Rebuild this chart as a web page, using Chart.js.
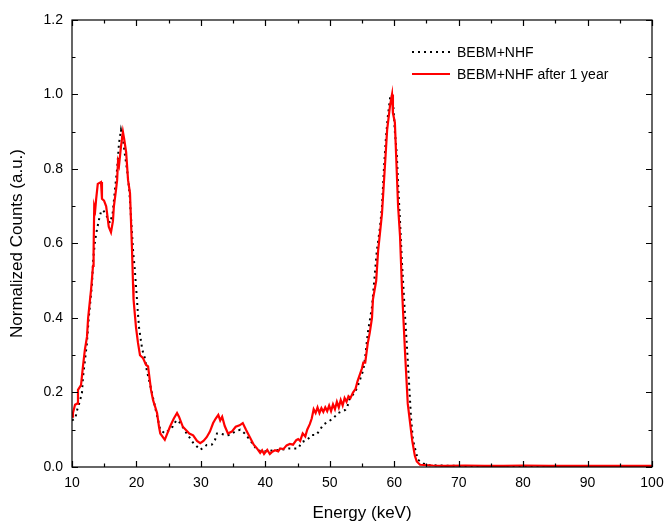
<!DOCTYPE html>
<html>
<head>
<meta charset="utf-8">
<script src="https://cdn.jsdelivr.net/npm/chart.js@4.4.1/dist/chart.umd.min.js"></script>
<style>
  html, body { margin: 0; padding: 0; background: #fff; }
  #wrap { width: 668px; height: 526px; }
</style>
</head>
<body>
<div id="wrap"><canvas id="spectrumChart" width="668" height="526"></canvas></div>
<script>
'use strict';

// series labels
var seriesLabels = ['BEBM+NHF', 'BEBM+NHF after 1 year'];

// fresh sample: energy (keV) and normalized counts
var energyBase = [10.0, 10.5, 10.8, 11.2, 11.55, 11.7, 12.3, 12.6, 13.1, 13.3, 13.6, 13.9, 14.2, 14.5, 14.8, 15.2, 15.5, 15.9,
  16.3, 16.7, 17.0, 17.3, 17.6, 17.9, 18.2, 18.6, 18.9, 19.3, 19.5, 19.7, 20.0, 20.2, 20.4, 20.9, 21.3, 21.6, 22.4, 22.9,
  23.7, 24.4, 25.0, 25.6, 26.2, 26.8, 27.8, 28.8, 29.9, 30.9, 31.7, 32.2, 32.5, 33.0, 34.0, 34.5, 35.3, 36.1, 36.8, 37.6,
  38.7, 39.5, 40.0, 41.0, 42.3, 43.8, 45.1, 45.7, 46.5, 47.2, 47.9, 48.5, 48.95, 49.7, 50.5, 51.3, 52.4, 52.7, 53.1, 53.9,
  54.4, 55.2, 55.5, 55.9, 56.55, 57.0, 57.3, 57.8, 58.1, 58.4, 58.7, 59.0, 59.35, 59.6, 59.9, 60.1, 60.4, 60.6, 60.9, 61.2,
  61.7, 62.0, 62.3, 62.6, 62.9, 63.4, 63.7, 64.5, 65, 67, 70, 75, 80, 85, 90, 95, 100];
var countsBase = [0.125, 0.13, 0.153, 0.175, 0.20, 0.24, 0.33, 0.40, 0.49, 0.56, 0.61, 0.64, 0.665, 0.685, 0.69, 0.68, 0.67, 0.655,
  0.68, 0.75, 0.80, 0.87, 0.905, 0.88, 0.84, 0.79, 0.74, 0.63, 0.575, 0.54, 0.47, 0.42, 0.375, 0.315, 0.293, 0.26, 0.20, 0.16,
  0.10, 0.09, 0.098, 0.108, 0.126, 0.118, 0.09, 0.065, 0.046, 0.059, 0.06, 0.073, 0.09, 0.09, 0.085, 0.086, 0.095, 0.10, 0.09, 0.073,
  0.046, 0.042, 0.042, 0.044, 0.046, 0.05, 0.05, 0.067, 0.073, 0.086, 0.086, 0.10, 0.113, 0.121, 0.13, 0.145, 0.153, 0.16, 0.185, 0.20,
  0.22, 0.26, 0.296, 0.36, 0.43, 0.52, 0.58, 0.645, 0.70, 0.80, 0.88, 0.94, 0.99, 1.0, 0.96, 0.90, 0.84, 0.76, 0.66, 0.55,
  0.40, 0.315, 0.226, 0.134, 0.073, 0.038, 0.019, 0.01, 0.005, 0.004, 0.003, 0.003, 0.003, 0.003, 0.003, 0.003, 0.003];

// same sample after 1 year
var energyAged = [10.0, 10.15, 10.47, 10.78, 10.93, 11.4, 11.7, 12.0, 12.33, 12.5, 12.95, 13.26, 13.35, 13.45, 13.6, 13.75, 14.0,
  14.5, 14.65, 14.97, 15.3, 15.45, 15.7, 16.05, 16.35, 16.5, 16.8, 17.0, 17.14, 17.3, 17.6, 17.9, 18.1, 18.4, 18.7, 19.0,
  19.3, 19.47, 19.55, 19.93, 20.24, 20.55, 21.0, 21.5, 21.8, 22.26, 22.57, 23.2, 23.5, 23.7, 24.4, 25.2, 25.8, 26.3, 26.6,
  27.2, 28.2, 28.8, 29.4, 29.9, 30.4, 30.9, 31.4, 31.9, 32.3, 32.7, 33.0, 33.3, 33.7, 34.2, 34.8, 35.4, 36.0, 36.5, 37.0,
  37.6, 38.2, 38.7, 39.2, 39.5, 39.8, 40.3, 40.7, 41.0, 41.5, 42.0, 42.3, 42.8, 43.3, 43.8, 44.3, 44.8, 45.1, 45.4, 45.8,
  46.2, 46.5, 46.9, 47.2, 47.5, 47.8, 48.1, 48.4, 48.7, 49.0, 49.3, 49.6, 49.9, 50.2, 50.5, 50.8, 51.1, 51.4, 51.7, 52.0,
  52.3, 52.6, 52.9, 53.2, 53.6, 54.0, 54.3, 54.7, 55.0, 55.2, 55.5, 55.9, 56.2, 56.55, 56.7, 57.2, 57.5, 57.8, 58.1, 58.6,
  58.9, 59.35, 59.66, 59.8, 60.1, 60.6, 60.9, 61.2, 61.7, 62.1, 62.8, 63.2, 63.5, 64.0, 66, 68, 71, 74, 77, 80, 84, 88, 92,
  96, 100];
var countsAged = [0.135, 0.145, 0.167, 0.17, 0.207, 0.22, 0.27, 0.315, 0.35, 0.40, 0.475, 0.54, 0.58, 0.70, 0.69, 0.72, 0.76,
  0.765, 0.72, 0.715, 0.70, 0.68, 0.645, 0.63, 0.66, 0.70, 0.74, 0.77, 0.82, 0.81, 0.86, 0.90, 0.88, 0.845, 0.77, 0.735,
  0.59, 0.49, 0.45, 0.375, 0.333, 0.30, 0.293, 0.274, 0.27, 0.207, 0.18, 0.145, 0.108, 0.09, 0.073, 0.108, 0.13, 0.145, 0.135,
  0.108, 0.09, 0.085, 0.07, 0.064, 0.07, 0.08, 0.095, 0.118, 0.13, 0.14, 0.125, 0.135, 0.11, 0.09, 0.095, 0.108, 0.112, 0.118, 0.10,
  0.08, 0.06, 0.05, 0.038, 0.045, 0.035, 0.046, 0.035, 0.04, 0.045, 0.042, 0.05, 0.048, 0.058, 0.062, 0.06, 0.072, 0.075, 0.07, 0.09,
  0.082, 0.10, 0.115, 0.13, 0.155, 0.145, 0.16, 0.145, 0.158, 0.148, 0.16, 0.15, 0.165, 0.15, 0.168, 0.155, 0.175, 0.16, 0.18, 0.165,
  0.185, 0.175, 0.19, 0.185, 0.20, 0.21, 0.23, 0.25, 0.265, 0.28, 0.28, 0.333, 0.36, 0.40, 0.45, 0.50, 0.58, 0.63, 0.68, 0.82,
  0.905, 0.97, 1.0, 0.95, 0.925, 0.70, 0.62, 0.48, 0.30, 0.17, 0.07, 0.03, 0.015, 0.006, 0.004, 0.003, 0.004, 0.003, 0.003, 0.004, 0.003, 0.003, 0.003,
  0.003, 0.003];

// axis ranges
var xTicks = [10, 20, 30, 40, 50, 60, 70, 80, 90, 100];
var yTicks = [0.0, 0.2, 0.4, 0.6, 0.8, 1.0, 1.2];

function toPoints(xs, ys) {
  return xs.map(function (x, i) { return { x: x, y: ys[i] }; });
}

var FONT = '"Liberation Sans", Arial, sans-serif';

// box frame, inward ticks on all four sides, and the legend
var framePlugin = {
  id: 'frame',
  afterDraw: function (chart) {
    var ctx = chart.ctx;
    var a = chart.chartArea;
    var xs = chart.scales.x, ys = chart.scales.y;
    ctx.save();
    ctx.strokeStyle = '#000';
    ctx.lineWidth = 1.2;
    ctx.strokeRect(a.left, a.top, a.right - a.left, a.bottom - a.top);

    var i, px, len;
    for (i = 0; i <= 18; i++) {
      var xv = 10 + i * 5;
      px = Math.round(xs.getPixelForValue(xv)) + 0.5;
      len = (i % 2 === 0) ? 6 : 3.5;
      ctx.beginPath();
      ctx.moveTo(px, a.bottom); ctx.lineTo(px, a.bottom - len);
      ctx.moveTo(px, a.top); ctx.lineTo(px, a.top + len);
      ctx.stroke();
    }
    for (i = 0; i <= 12; i++) {
      var yv = i * 0.1;
      px = Math.round(ys.getPixelForValue(yv)) + 0.5;
      len = (i % 2 === 0) ? 6 : 3.5;
      ctx.beginPath();
      ctx.moveTo(a.left, px); ctx.lineTo(a.left + len, px);
      ctx.moveTo(a.right, px); ctx.lineTo(a.right - len, px);
      ctx.stroke();
    }

    // legend
    var sets = chart.data.datasets;
    var lx = 412, ly = 52, gap = 22;
    ctx.font = '14px ' + FONT;
    ctx.textBaseline = 'middle';
    ctx.fillStyle = '#000';
    sets.forEach(function (ds, k) {
      var yy = ly + k * gap;
      ctx.beginPath();
      ctx.strokeStyle = ds.borderColor;
      ctx.lineWidth = ds.borderWidth;
      ctx.setLineDash(ds.borderDash || []);
      ctx.moveTo(lx, yy); ctx.lineTo(lx + 38, yy);
      ctx.stroke();
      ctx.setLineDash([]);
      ctx.fillText(ds.label, lx + 45, yy + 1);
    });
    ctx.restore();
  }
};

var spectrumCanvas = document.getElementById('spectrumChart').getContext('2d');
var spectrumChart = new Chart(spectrumCanvas, {
  type: 'line',
  data: {
    datasets: [{
      label: seriesLabels[0],
      data: toPoints(energyBase, countsBase),
      borderColor: '#000',
      borderWidth: 2,
      borderDash: [2, 4],
      pointRadius: 0,
      tension: 0,
      fill: false,
      order: 1
    }, {
      label: seriesLabels[1],
      data: toPoints(energyAged, countsAged),
      borderColor: '#ff0000',
      borderWidth: 2.2,
      pointRadius: 0,
      tension: 0,
      fill: false,
      order: 0
    }]
  },
  options: {
    responsive: false,
    animation: false,
    layout: { padding: { top: 20, right: 16, left: 0, bottom: 0 } },
    plugins: {
      legend: { display: false },
      tooltip: { enabled: false }
    },
    scales: {
      x: {
        type: 'linear',
        min: 10, max: 100,
        afterBuildTicks: function (s) { s.ticks = xTicks.map(function (v) { return { value: v }; }); },
        afterFit: function (s) { s.height = 59; s.paddingLeft = 0; s.paddingRight = 0; },
        grid: { display: false, drawTicks: false },
        border: { display: false },
        ticks: { color: '#000', font: { size: 14, family: FONT }, padding: 8, maxRotation: 0 },
        title: { display: true, text: 'Energy (keV)', color: '#000', font: { size: 17, family: FONT }, padding: { top: 2, bottom: 2 } }
      },
      y: {
        type: 'linear',
        min: 0, max: 1.2,
        afterBuildTicks: function (s) { s.ticks = yTicks.map(function (v) { return { value: v }; }); },
        afterFit: function (s) { s.width = 72; },
        grid: { display: false, drawTicks: false },
        border: { display: false },
        ticks: {
          color: '#000', font: { size: 14, family: FONT }, padding: 9,
          callback: function (v) { return Number(v).toFixed(1); }
        },
        title: { display: true, text: 'Normalized Counts (a.u.)', color: '#000', font: { size: 17, family: FONT }, padding: { top: 7, bottom: 0 } }
      }
    }
  },
  plugins: [framePlugin]
});
</script>
</body>
</html>
